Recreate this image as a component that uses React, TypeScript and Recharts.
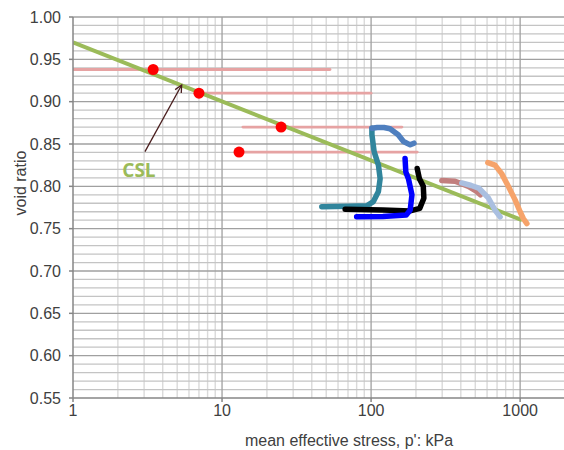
import {
  ComposedChart, Line, Scatter, XAxis, YAxis, ReferenceLine, ReferenceDot
} from 'recharts'

// log p' axis
const xTicks = [1, 10, 100, 1000]
const yTicks = [0.55, 0.6, 0.65, 0.7, 0.75, 0.8, 0.85, 0.9, 0.95, 1.0]

// critical state line
const cslLine = [{ p: 1, e: 0.97 }, { p: 1030, e: 0.76 }]

// initial states (red dots)
const startPoints = [
  { p: 3.45, e: 0.938 },
  { p: 7.0, e: 0.91 },
  { p: 24.9, e: 0.87 },
  { p: 13.0, e: 0.8405 },
]

// pink horizontal guide lines
const guide1 = [{ p: 1, e: 0.938 }, { p: 53, e: 0.938 }]
const guide2 = [{ p: 7.2, e: 0.91 }, { p: 100, e: 0.91 }]
const guide3 = [{ p: 13.8, e: 0.87 }, { p: 161, e: 0.87 }]
const guide4 = [{ p: 13.2, e: 0.8405 }, { p: 204, e: 0.8405 }]

// test paths
const tealPath = [
  { p: 46.7, e: 0.776 }, { p: 70, e: 0.7765 }, { p: 93.6, e: 0.777 }, { p: 103.6, e: 0.782 },
  { p: 112, e: 0.794 }, { p: 115, e: 0.809 }, { p: 112, e: 0.825 }, { p: 104.8, e: 0.841 },
  { p: 101.3, e: 0.861 }, { p: 101.3, e: 0.8685 },
]
const steelPath = [
  { p: 101.3, e: 0.8685 }, { p: 110, e: 0.8695 }, { p: 122, e: 0.8695 }, { p: 134, e: 0.868 },
  { p: 152, e: 0.861 }, { p: 165, e: 0.853 }, { p: 183, e: 0.849 }, { p: 194, e: 0.851 },
]
const bluePath = [
  { p: 80, e: 0.764 }, { p: 120, e: 0.7645 }, { p: 172, e: 0.766 }, { p: 183, e: 0.772 },
  { p: 188, e: 0.79 }, { p: 178, e: 0.809 }, { p: 171, e: 0.817 }, { p: 169, e: 0.833 },
]
const blackPath = [
  { p: 67, e: 0.773 }, { p: 120, e: 0.772 }, { p: 183, e: 0.771 }, { p: 212, e: 0.774 },
  { p: 226, e: 0.786 }, { p: 224, e: 0.8 }, { p: 211, e: 0.809 }, { p: 204, e: 0.821 },
]
const rosePath = [
  { p: 298, e: 0.807 }, { p: 366, e: 0.806 }, { p: 450, e: 0.8 }, { p: 511, e: 0.794 }, { p: 541, e: 0.79 },
]
const lightBluePath = [
  { p: 406, e: 0.804 }, { p: 470, e: 0.801 }, { p: 527, e: 0.798 }, { p: 614, e: 0.786 },
  { p: 678, e: 0.772 }, { p: 734, e: 0.764 },
]
const orangePath = [
  { p: 607, e: 0.828 }, { p: 678, e: 0.825 }, { p: 752, e: 0.815 }, { p: 833, e: 0.8 },
  { p: 925, e: 0.784 }, { p: 1000, e: 0.77 }, { p: 1050, e: 0.762 }, { p: 1110, e: 0.756 },
]

// arrow pointing at the CSL, and its label
const arrowFrom = { p: 3.04, e: 0.841 }
const arrowTo = { p: 5.36, e: 0.9197 }
const cslLabelAt = { p: 2.77, e: 0.819 }

const minorX: number[] = []
for (const d of [1, 10, 100]) for (let k = 2; k <= 9; k++) minorX.push(k * d)
minorX.push(2000)
const minorY: number[] = []
for (let i = 56; i < 100; i++) if (i % 5 !== 0) minorY.push(i / 100)

const font = 'Liberation Sans, Arial, sans-serif'

const Arrow = (props: any) => {
  const { x1, y1, x2, y2 } = props
  const a = Math.atan2(y2 - y1, x2 - x1)
  const h = 8
  const w = 0.45
  return (
    <g>
      <line x1={x1} y1={y1} x2={x2} y2={y2} stroke="#4a1e1e" strokeWidth={1.3} />
      <polyline
        points={`${x2 - h * Math.cos(a - w)},${y2 - h * Math.sin(a - w)} ${x2},${y2} ${x2 - h * Math.cos(a + w)},${y2 - h * Math.sin(a + w)}`}
        fill="none" stroke="#4a1e1e" strokeWidth={1.3}
      />
    </g>
  )
}

const path = (data: any[], color: string, width = 5.5) => (
  <Line data={data} dataKey="e" type="linear" stroke={color} strokeWidth={width} dot={false}
    strokeLinecap="round" strokeLinejoin="round" isAnimationActive={false} />
)

export default function App() {
  return (
    <div style={{ position: 'absolute', left: 0, top: 0, width: 564, height: 450, background: '#fff', overflow: 'hidden' }}>
      <ComposedChart width={565} height={450} margin={{ top: 17, right: 0, left: 0, bottom: 0 }}>
        <XAxis dataKey="p" type="number" scale="log" domain={[1, 2000]} allowDataOverflow ticks={xTicks}
          tick={{ fill: '#404040', fontSize: 16, fontFamily: font }} tickSize={4} tickMargin={3}
          stroke="#868686" strokeWidth={1.5} height={52}
          label={{ value: "mean effective stress, p': kPa", position: 'insideBottom', offset: 4, dx: 30, fill: '#404040', fontSize: 16, fontFamily: font }} />
        <YAxis type="number" domain={[0.55, 1.0]} ticks={yTicks} tickFormatter={(v: number) => v.toFixed(2)}
          tick={{ fill: '#404040', fontSize: 16, fontFamily: font }} tickSize={4} tickMargin={8}
          stroke="#868686" strokeWidth={1.5} width={73}
          label={{ value: 'void ratio', angle: -90, position: 'insideLeft', offset: 20, dy: 8, fill: '#404040', fontSize: 16, fontFamily: font }} />

        {minorX.map(v => <ReferenceLine key={'mx' + v} x={v} stroke="#dadada" strokeWidth={1.4} />)}
        {minorY.map(v => <ReferenceLine key={'my' + v} y={v} stroke="#c4c4c4" strokeWidth={1.3} />)}
        {xTicks.slice(1).map(v => <ReferenceLine key={'Mx' + v} x={v} stroke="#a0a0a0" strokeWidth={1.3} />)}
        {yTicks.slice(1).map(v => <ReferenceLine key={'My' + v} y={v} stroke="#a0a0a0" strokeWidth={1.3} />)}

        {path(guide1, '#e6a3a3', 2.8)}
        {path(guide2, '#e6a3a3', 2.8)}
        {path(guide3, '#e6a3a3', 2.8)}
        {path(guide4, '#e6a3a3', 2.8)}

        <Line data={cslLine} dataKey="e" type="linear" stroke="#9bbb59" strokeWidth={4} dot={false} isAnimationActive={false} />

        {path(tealPath, '#31859c')}
        {path(steelPath, '#4f7fbf')}
        {path(blackPath, '#000000')}
        {path(bluePath, '#0000ff')}
        {path(rosePath, '#c27f7e')}
        {path(lightBluePath, '#aabfe0')}
        {path(orangePath, '#f6a36a')}

        <Scatter data={startPoints} dataKey="e" fill="#ff0000" isAnimationActive={false}
          shape={(pr: any) => <circle cx={pr.cx} cy={pr.cy} r={5.5} fill="#ff0000" />} />

        <ReferenceLine segment={[{ x: arrowFrom.p, y: arrowFrom.e }, { x: arrowTo.p, y: arrowTo.e }]} shape={Arrow} />
        <ReferenceDot x={cslLabelAt.p} y={cslLabelAt.e} r={1} fill="none" stroke="none"
          label={{ value: 'CSL', position: 'center', fill: '#9bbb59', fontSize: 19, fontWeight: 'bold', fontFamily: 'Open Sans, sans-serif' }} />
      </ComposedChart>
    </div>
  )
}
